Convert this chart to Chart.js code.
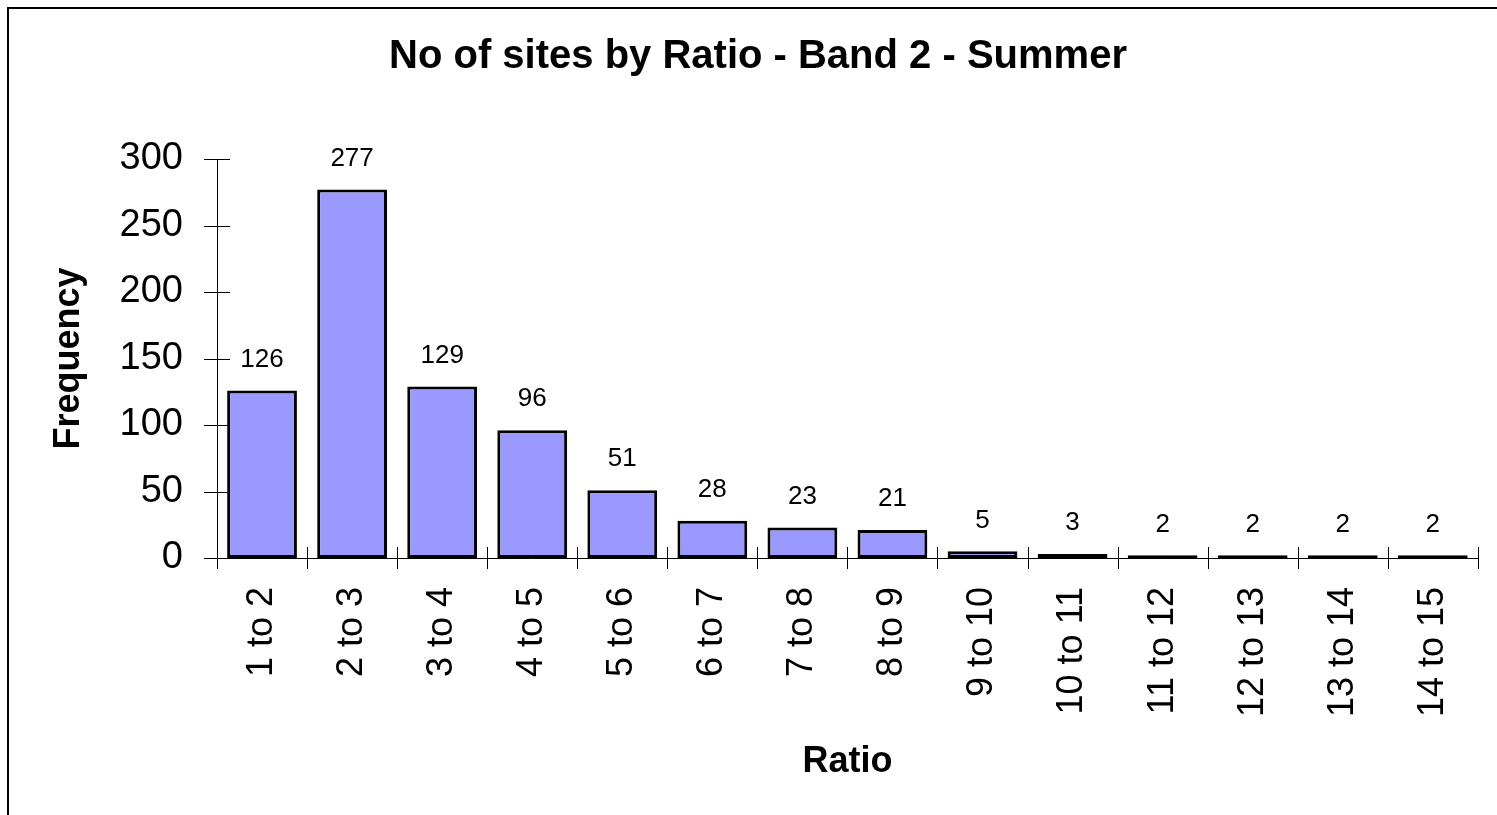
<!DOCTYPE html>
<html>
<head>
<meta charset="utf-8">
<script src="https://cdn.jsdelivr.net/npm/chart.js@4/dist/chart.umd.min.js"></script>
<style>
  html, body { margin: 0; padding: 0; background: #fff; }
</style>
</head>
<body>
<canvas id="chart" width="1497" height="815"></canvas>
<script>
const ratioLabels = ['1 to 2', '2 to 3', '3 to 4', '4 to 5', '5 to 6', '6 to 7', '7 to 8',
  '8 to 9', '9 to 10', '10 to 11', '11 to 12', '12 to 13', '13 to 14', '14 to 15'];
const frequency = [126, 277, 129, 96, 51, 28, 23, 21, 5, 3, 2, 2, 2, 2];
const yTicks = [0, 50, 100, 150, 200, 250, 300];

const FONT = "'Liberation Sans', Arial, sans-serif";

// outer frame like the original sheet chart
const framePlugin = {
  id: 'frame',
  beforeDraw(chart) {
    const ctx = chart.ctx;
    ctx.save();
    ctx.strokeStyle = '#000';
    ctx.lineWidth = 2;
    ctx.strokeRect(8, 8, 2000, 2000);
    ctx.restore();
  }
};

// tick marks that cross the axis lines + value labels
const crossTicks = {
  id: 'crossTicks',
  afterDraw(chart) {
    const ctx = chart.ctx;
    const x = chart.scales.x, y = chart.scales.y;
    ctx.save();
    ctx.strokeStyle = '#000';
    ctx.lineWidth = 1;
    ctx.beginPath();
    yTicks.forEach(v => {
      const py = Math.round(y.getPixelForValue(v)) + 0.5;
      ctx.moveTo(x.left - 13, py);
      ctx.lineTo(x.left + 13, py);
    });
    const n = ratioLabels.length;
    for (let i = 0; i <= n; i++) {
      let px;
      if (i === 0) px = x.left;
      else if (i === n) px = x.right;
      else px = (x.getPixelForValue(i - 1) + x.getPixelForValue(i)) / 2;
      px = Math.round(px) + 0.5;
      const py = y.getPixelForValue(0);
      ctx.moveTo(px, py - 11);
      ctx.lineTo(px, py + 11);
    }
    ctx.stroke();

    ctx.fillStyle = '#000';
    ctx.font = '26px ' + FONT;
    ctx.textAlign = 'center';
    ctx.textBaseline = 'middle';
    const meta = chart.getDatasetMeta(0);
    meta.data.forEach((bar, i) => {
      ctx.fillText(String(frequency[i]), bar.x, bar.y - 31);
    });
    ctx.restore();
  }
};

new Chart(document.getElementById('chart').getContext('2d'), {
  type: 'bar',
  data: {
    labels: ratioLabels,
    datasets: [{
      label: 'Frequency',
      data: frequency,
      backgroundColor: '#9999ff',
      borderColor: '#000',
      borderWidth: 3,
      borderSkipped: false,
      barPercentage: 0.775,
      categoryPercentage: 1
    }]
  },
  options: {
    responsive: false,
    animation: false,
    layout: {
      autoPadding: false,
      padding: { left: 17, right: -2, top: 0, bottom: 0 }
    },
    plugins: {
      legend: { display: false },
      tooltip: { enabled: false },
      title: {
        display: true,
        text: 'No of sites by Ratio - Band 2 - Summer',
        color: '#000',
        font: { family: FONT, size: 40, weight: 'bold' },
        padding: { top: 33, bottom: 78 }
      }
    },
    scales: {
      x: {
        grid: { display: false },
        border: { display: true, color: '#000', width: 1 },
        ticks: {
          color: '#000',
          font: { family: FONT, size: 36 },
          minRotation: 90,
          maxRotation: 90,
          autoSkip: false,
          padding: 21
        },
        title: {
          display: true,
          text: 'Ratio',
          color: '#000',
          font: { family: FONT, size: 36, weight: 'bold' },
          padding: { top: 0, bottom: 31 }
        },
        afterFit(scale) { scale.height = 257; }
      },
      y: {
        min: 0,
        max: 300,
        grid: { display: false },
        border: { display: true, color: '#000', width: 1 },
        ticks: {
          color: '#000',
          font: { family: FONT, size: 38 },
          stepSize: 50,
          padding: 26
        },
        afterBuildTicks(scale) { scale.ticks = yTicks.map(v => ({ value: v })); },
        title: {
          display: true,
          text: 'Frequency',
          color: '#000',
          font: { family: FONT, size: 36, weight: 'bold' },
          padding: { top: 30, bottom: 0 }
        },
        afterFit(scale) { scale.width = 200; }
      }
    }
  },
  plugins: [framePlugin, crossTicks]
});
</script>
</body>
</html>
